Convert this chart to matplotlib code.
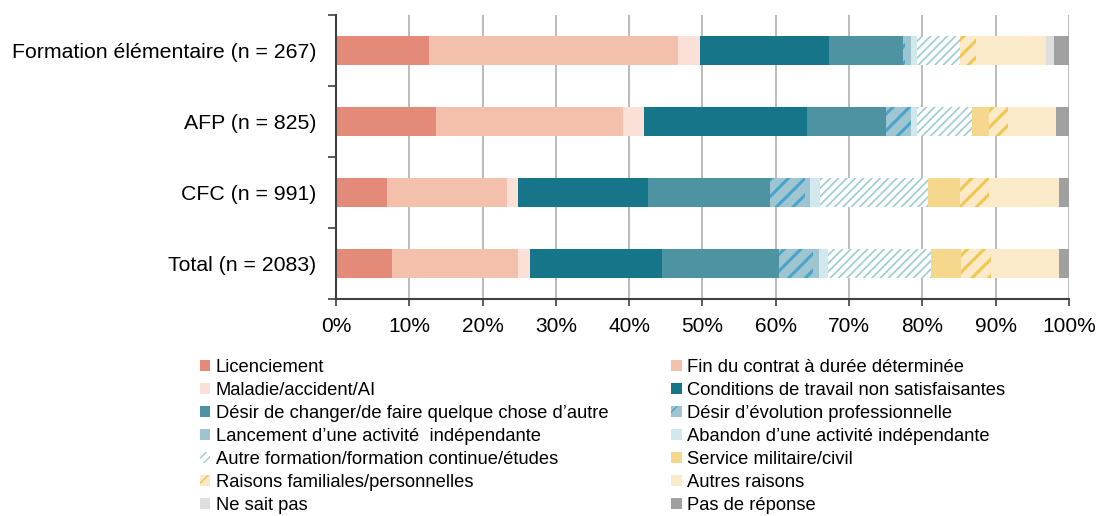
import numpy as np
import matplotlib
matplotlib.use('Agg')
import matplotlib.pyplot as plt
from matplotlib.patches import Patch

plt.rcParams['font.family'] = ['Liberation Sans', 'DejaVu Sans']

# Categories (top to bottom)
groups = ['Formation élémentaire (n = 267)', 'AFP (n = 825)', 'CFC (n = 991)', 'Total (n = 2083)']

reasons = ['Licenciement',
           'Fin du contrat à durée déterminée',
           'Maladie/accident/AI',
           'Conditions de travail non satisfaisantes',
           'Désir de changer/de faire quelque chose d\u2019autre',
           'Désir d\u2019évolution professionnelle',
           'Lancement d\u2019une activité  indépendante',
           'Abandon d\u2019une activité indépendante',
           'Autre formation/formation continue/études',
           'Service militaire/civil',
           'Raisons familiales/personnelles',
           'Autres raisons',
           'Ne sait pas',
           'Pas de réponse']

# Shares in % per reason, one value per group (FE, AFP, CFC, Total)
licenciement = [12.7, 13.7, 7.0, 7.6]
fin_contrat = [33.9, 25.4, 16.3, 17.3]
maladie = [3.1, 2.9, 1.6, 1.6]
conditions = [17.5, 22.3, 17.7, 18.0]
desir_changer = [10.1, 10.8, 16.6, 16.0]
desir_evolution = [0.3, 3.3, 4.8, 4.6]
lancement = [0.8, 0.0, 0.7, 0.8]
abandon = [0.9, 0.9, 1.3, 1.2]
autre_formation = [5.8, 7.4, 14.7, 14.1]
service_militaire = [0.0, 2.4, 4.4, 4.0]
raisons_familiales = [2.2, 2.6, 4.0, 4.1]
autres_raisons = [9.5, 6.5, 9.5, 9.3]
ne_sait_pas = [1.1, 0.0, 0.0, 0.0]
pas_de_reponse = [2.1, 1.8, 1.4, 1.4]

values = [licenciement, fin_contrat, maladie, conditions, desir_changer, desir_evolution,
          lancement, abandon, autre_formation, service_militaire, raisons_familiales,
          autres_raisons, ne_sait_pas, pas_de_reponse]

# (face colour, hatch, hatch colour)
styles = [('#e48a78', None, None),
          ('#f3c0ac', None, None),
          ('#fbe0d8', None, None),
          ('#177589', None, None),
          ('#4d93a2', None, None),
          ('#9fc6d0', '//', '#4aa3cc'),
          ('#9ec5cf', None, None),
          ('#d0e8ee', None, None),
          ('#ffffff', '////', '#9ccdd6'),
          ('#f5d88e', None, None),
          ('#fbe9c8', '//', '#f0c850'),
          ('#fcebca', None, None),
          ('#dedede', None, None),
          ('#a0a0a0', None, None)]

fig = plt.figure(figsize=(10.99, 5.16), dpi=100)
ax = fig.add_axes([0.3057, 0.4205, 0.667, 0.5505])

y = np.arange(len(groups))
left = np.zeros(len(groups))
handles = []
for vals, (fc, hatch, hc), name in zip(values, styles, reasons):
    lw = 2.2 if hatch == '//' else 1.2
    with plt.rc_context({'hatch.linewidth': lw}):
        ax.barh(y, vals, left=left, height=0.4, color=fc, hatch=hatch,
                edgecolor=hc if hc else fc, linewidth=0, zorder=3)
        handles.append(Patch(facecolor=fc, hatch=hatch, edgecolor=hc if hc else fc, linewidth=0))
    left += np.array(vals)

ax.set_xlim(0, 100)
ax.set_ylim(3.5, -0.5)
ax.set_xticks(np.arange(0, 101, 10))
ax.set_xticklabels(['%d%%' % v for v in range(0, 101, 10)])
ax.set_yticks(y)
ax.set_yticklabels(groups)
ax.set_yticks(np.arange(-0.5, 4, 1), minor=True)
ax.tick_params(axis='y', which='major', length=0, labelsize=15.3, pad=14)
ax.tick_params(axis='y', which='minor', length=6, width=1.2, color='#404040')
ax.tick_params(axis='x', length=5, width=1.2, color='#404040', labelsize=15, pad=8)
ax.grid(axis='x', color='#b0b0b0', linewidth=1.2, zorder=0)
for s in ['top', 'right']:
    ax.spines[s].set_visible(False)
for s in ['left', 'bottom']:
    ax.spines[s].set_color('#404040')
    ax.spines[s].set_linewidth(1.5)
    ax.spines[s].set_zorder(4)

# Legend, filled row by row like the original
order = list(range(0, 14, 2)) + list(range(1, 14, 2))
fig.legend([handles[i] for i in order], [reasons[i] for i in order], ncol=2,
           loc='upper left', bbox_to_anchor=(0.182, 0.304), frameon=False,
           fontsize=13.2, handlelength=0.55, handleheight=0.55, handletextpad=0.3,
           labelspacing=0.33, columnspacing=3.45, borderaxespad=0, borderpad=0)

plt.savefig('out.png', dpi=100)
